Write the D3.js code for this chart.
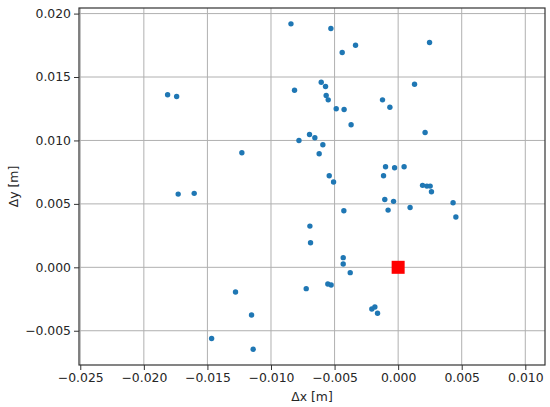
<!DOCTYPE html>
<html>
<head>
<meta charset="utf-8">
<script src="https://cdn.jsdelivr.net/npm/d3@7"></script>
<style>
  body { margin: 0; background: #fff; }
  svg text { font-family: "DejaVu Sans", sans-serif; }
  .tick text { font-size: 12.4px; fill: #262626; }
  .grid line { stroke: #b0b0b0; stroke-width: 1; }
  .axis-label { font-size: 12.4px; fill: #262626; }
</style>
</head>
<body>
<div id="chart"></div>
<script>
// scatter points (Δx, Δy) in metres
var dx = [
  -0.00843, -0.00529, 0.00247, -0.00335, -0.0044, -0.01813, -0.01742, -0.00815,
  -0.00605, -0.00571, -0.00566, -0.0055, -0.00487, -0.00425, -0.0037, -0.00123,
  -0.00065, 0.00129, 0.00212, -0.01229, -0.0078, -0.00697, -0.00655, -0.00592,
  -0.00621, -0.00099, -0.00028, 0.00047, -0.00115, -0.00542, -0.00508, 0.00192,
  0.00226, 0.00252, 0.00262, -0.0173, -0.01604, -0.00105, -0.00036, -0.00079,
  0.00094, 0.00432, 0.00454, -0.00427, -0.00694, -0.00689, -0.00432, -0.00432,
  -0.00377, -0.00723, -0.00553, -0.00527, -0.00207, -0.00183, -0.00162, -0.01279,
  -0.01153, -0.01467, -0.0114
];
var dy = [
  0.01919, 0.01882, 0.01772, 0.0175, 0.01693, 0.0136, 0.01346, 0.01396,
  0.01459, 0.01425, 0.01354, 0.0132, 0.0125, 0.01244, 0.01124, 0.0132,
  0.01262, 0.01443, 0.01063, 0.00903, 0.0100, 0.01047, 0.01021, 0.00966,
  0.00895, 0.00793, 0.00785, 0.00793, 0.00722, 0.00722, 0.00672, 0.00646,
  0.0064, 0.0064, 0.00596, 0.00577, 0.00583, 0.00535, 0.0052, 0.00451,
  0.00472, 0.00509, 0.00396, 0.00446, 0.00325, 0.00194, 0.00076, 0.00026,
  -0.00042, -0.00168, -0.00131, -0.00139, -0.00328, -0.00313, -0.00362, -0.00194,
  -0.00376, -0.00561, -0.00646
];
// reference point (red square)
var refPoint = [0, 0];

var xTicks = [-0.025, -0.020, -0.015, -0.010, -0.005, 0.000, 0.005, 0.010];
var yTicks = [-0.005, 0.000, 0.005, 0.010, 0.015, 0.020];

var width = 550, height = 407;
var margin = {top: 8, right: 5, bottom: 42, left: 79};
var chartWidth = width - margin.left - margin.right;
var chartHeight = height - margin.top - margin.bottom;

var svg = d3.select('#chart').append('svg')
            .attr('width', width)
            .attr('height', height);

var g = svg.append('g')
    .attr('transform', `translate(${margin.left}, ${margin.top})`);

var xScale = d3.scaleLinear()
              .domain([-0.0251, 0.01155])
              .range([0, chartWidth]);

var yScale = d3.scaleLinear()
              .domain([-0.0077, 0.02044])
              .range([chartHeight, 0]);

var fmtMinus = d => d3.format(".3f")(d).replace("-", "\u2212");

// grid
g.append('g').attr('class', 'grid')
    .selectAll('line').data(xTicks).enter().append('line')
    .attr('x1', d => xScale(d)).attr('x2', d => xScale(d))
    .attr('y1', 0).attr('y2', chartHeight);
g.append('g').attr('class', 'grid')
    .selectAll('line').data(yTicks).enter().append('line')
    .attr('y1', d => yScale(d)).attr('y2', d => yScale(d))
    .attr('x1', 0).attr('x2', chartWidth);

var xAxis = d3.axisBottom(xScale).tickValues(xTicks).tickFormat(fmtMinus)
              .tickSize(5).tickPadding(3);
var yAxis = d3.axisLeft(yScale).tickValues(yTicks).tickFormat(fmtMinus)
              .tickSize(5).tickPadding(3);

var gx = g.append('g')
    .attr('transform', `translate(0,${chartHeight})`)
    .call(xAxis);
var gy = g.append('g').call(yAxis);
gx.select('.domain').remove();
gy.select('.domain').remove();
svg.selectAll('.tick line').attr('stroke', '#333');

// frame
g.append('rect')
    .attr('x', 0).attr('y', 0)
    .attr('width', chartWidth).attr('height', chartHeight)
    .attr('fill', 'none')
    .attr('stroke', '#333')
    .attr('stroke-width', 1.2);

var points = dx.map((x, i) => ({x: x, y: dy[i]}));

g.selectAll('.dot')
    .data(points)
    .enter().append('circle')
    .attr('class', 'dot')
    .attr('cx', d => xScale(d.x))
    .attr('cy', d => yScale(d.y))
    .attr('r', 2.7)
    .attr('fill', '#1f77b4');

var sq = 13;
g.append('rect')
    .attr('x', xScale(refPoint[0]) - sq / 2)
    .attr('y', yScale(refPoint[1]) - sq / 2)
    .attr('width', sq).attr('height', sq)
    .attr('fill', '#ff0000');

// axis labels
svg.append('text')
    .attr('class', 'axis-label')
    .attr('x', margin.left + chartWidth / 2)
    .attr('y', 401)
    .attr('text-anchor', 'middle')
    .text('Δx [m]');

svg.append('text')
    .attr('class', 'axis-label')
    .attr('transform', `translate(18, ${margin.top + chartHeight / 2}) rotate(-90)`)
    .attr('text-anchor', 'middle')
    .text('Δy [m]');
</script>
</body>
</html>
